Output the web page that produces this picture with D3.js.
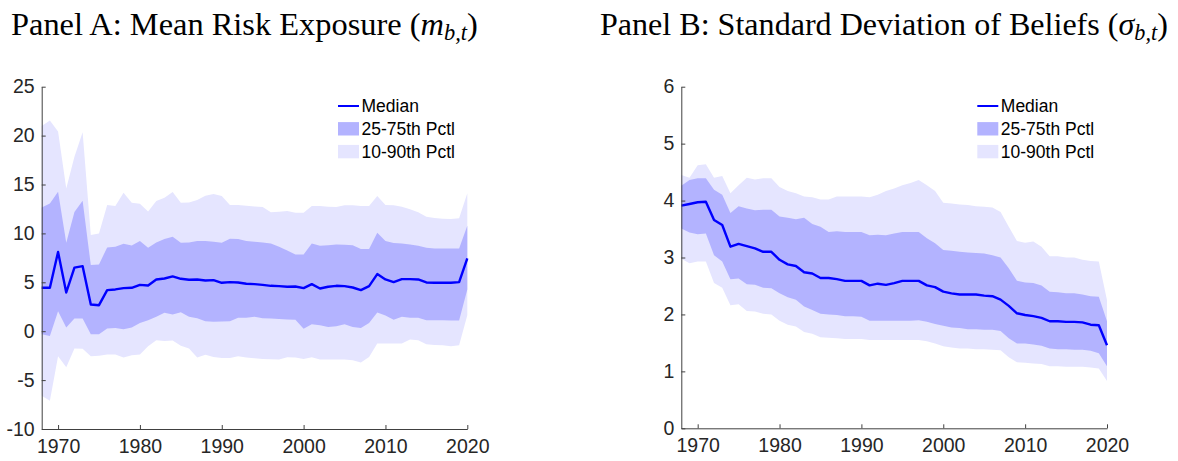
<!DOCTYPE html>
<html>
<head>
<meta charset="utf-8">
<script src="https://cdn.jsdelivr.net/npm/d3@7"></script>
<style>
  body { margin: 0; background: #fff; }
  svg { display: block; }
</style>
</head>
<body>
<svg id="chart" width="1178" height="461"></svg>
<script>
'use strict'

const years = d3.range(1968, 2021)

// Panel A: mean risk exposure
const riskMedian = [4.44, 4.44, 8.1, 3.96, 6.5, 6.65, 2.73, 2.66, 4.2, 4.27,
  4.4, 4.44, 4.74, 4.68, 5.29, 5.39, 5.6, 5.36, 5.26, 5.29,
  5.19, 5.22, 4.95, 5.02, 4.98, 4.85, 4.81, 4.74, 4.64, 4.61,
  4.54, 4.57, 4.4, 4.81, 4.37, 4.54, 4.64, 4.61, 4.47, 4.2,
  4.61, 5.84, 5.29, 5.02, 5.32, 5.32, 5.29, 4.98, 4.95, 4.95,
  4.95, 5.02, 7.44]
const riskP25 = [-0.3, -0.48, 2.05, 0.38, 1.3, 1.3, -0.3, -0.3, 0.27, 0.34,
  0.2, 0.38, 0.85, 1.13, 1.47, 1.88, 1.71, 1.95, 1.47, 1.33,
  1.02, 0.96, 0.99, 1.02, 1.37, 1.37, 1.47, 1.33, 1.3, 1.26,
  1.19, 1.16, 0.24, 0.72, 0.61, 0.44, 0.51, 0.72, 0.44, 0.34,
  0.85, 1.91, 1.6, 1.16, 1.47, 1.37, 1.37, 1.13, 1.13, 1.13,
  1.09, 1.09, 4.27]
const riskP75 = [12.66, 13.07, 14.27, 9.04, 12.2, 13.34, 6.76, 6.83, 8.57, 8.63,
  8.94, 8.77, 9.22, 8.53, 9.08, 9.42, 9.66, 9.04, 9.08, 9.22,
  9.22, 9.15, 9.04, 9.45, 9.42, 9.22, 9.15, 9.08, 8.98, 8.63,
  8.26, 7.85, 7.85, 8.98, 8.74, 8.8, 8.87, 8.84, 8.8, 8.4,
  8.4, 10.07, 9.22, 9.01, 8.98, 8.87, 8.74, 8.53, 8.46, 8.46,
  8.46, 8.46, 10.78]
const riskP10 = [-6.6, -7.1, -2.56, -3.69, -1.77, -1.8, -2.56, -2.5, -2.39, -2.39,
  -2.7, -2.46, -2.39, -1.54, -0.92, -0.99, -0.96, -1.5, -1.77, -2.7,
  -2.42, -2.63, -2.73, -2.73, -2.56, -2.7, -2.76, -2.83, -2.87, -2.9,
  -2.66, -2.7, -2.83, -2.66, -2.9, -2.9, -2.9, -2.9, -2.97, -3.2,
  -2.63, -1.26, -1.26, -1.26, -1.26, -0.85, -0.92, -1.33, -1.4, -1.43,
  -1.54, -1.43, 1.64]
const riskP90 = [20.99, 21.54, 20.41, 14.6, 17.85, 20.34, 9.83, 10.0, 12.9, 12.8,
  14.16, 13.14, 13.04, 12.25, 13.31, 13.65, 14.23, 13.14, 13.17, 13.41,
  13.86, 14.03, 13.82, 12.9, 12.9, 12.83, 12.76, 12.7, 12.15, 12.22,
  12.29, 12.12, 12.12, 12.8, 12.8, 12.73, 12.7, 12.87, 12.87, 12.8,
  12.8, 13.82, 12.9, 12.87, 12.73, 12.46, 12.15, 11.71, 11.57, 11.5,
  11.47, 11.54, 14.1]

// Panel B: standard deviation of beliefs
const sdMedian = [3.91, 3.94, 3.97, 3.98, 3.66, 3.57, 3.19, 3.24, 3.2, 3.16,
  3.1, 3.1, 2.96, 2.88, 2.85, 2.74, 2.72, 2.64, 2.64, 2.62,
  2.59, 2.59, 2.59, 2.51, 2.54, 2.52, 2.55, 2.59, 2.59, 2.59,
  2.51, 2.48, 2.4, 2.37, 2.35, 2.35, 2.35, 2.33, 2.32, 2.26,
  2.15, 2.02, 1.99, 1.97, 1.94, 1.88, 1.88, 1.87, 1.87, 1.86,
  1.82, 1.81, 1.46]
const sdP25 = [3.51, 3.44, 3.41, 3.42, 3.04, 2.93, 2.62, 2.63, 2.53, 2.52,
  2.47, 2.46, 2.37, 2.3, 2.26, 2.14, 2.08, 2.01, 2.0, 1.99,
  1.97, 1.97, 1.96, 1.89, 1.89, 1.89, 1.89, 1.89, 1.89, 1.9,
  1.87, 1.83, 1.8, 1.77, 1.76, 1.74, 1.74, 1.73, 1.73, 1.71,
  1.58, 1.49, 1.49, 1.47, 1.45, 1.4, 1.39, 1.39, 1.38, 1.38,
  1.36, 1.32, 1.09]
const sdP75 = [4.26, 4.36, 4.39, 4.39, 4.19, 4.1, 3.78, 3.9, 3.86, 3.83,
  3.84, 3.84, 3.72, 3.7, 3.67, 3.7, 3.59, 3.54, 3.45, 3.46,
  3.45, 3.45, 3.45, 3.39, 3.4, 3.39, 3.42, 3.45, 3.45, 3.45,
  3.34, 3.25, 3.13, 3.12, 3.1, 3.09, 3.08, 3.07, 3.04, 3.0,
  2.81, 2.59, 2.56, 2.55, 2.51, 2.4, 2.39, 2.37, 2.37, 2.35,
  2.32, 2.31, 1.88]
const sdP10 = [2.98, 2.9, 2.93, 2.93, 2.55, 2.47, 2.16, 2.18, 2.06, 2.05,
  2.01, 2.0, 1.89, 1.82, 1.79, 1.69, 1.66, 1.6, 1.59, 1.58,
  1.57, 1.57, 1.57, 1.55, 1.55, 1.55, 1.55, 1.55, 1.55, 1.55,
  1.53, 1.49, 1.44, 1.42, 1.4, 1.4, 1.39, 1.39, 1.38, 1.37,
  1.25, 1.16, 1.15, 1.14, 1.13, 1.09, 1.09, 1.08, 1.08, 1.08,
  1.07, 1.05, 0.83]
const sdP90 = [4.45, 4.4, 4.62, 4.64, 4.4, 4.43, 4.13, 4.27, 4.4, 4.37,
  4.39, 4.39, 4.24, 4.17, 4.13, 4.07, 4.06, 4.02, 4.02, 4.07,
  4.07, 4.07, 4.07, 4.06, 4.1, 4.17, 4.21, 4.27, 4.31, 4.36,
  4.27, 4.17, 3.96, 3.95, 3.93, 3.92, 3.9, 3.89, 3.88, 3.8,
  3.54, 3.29, 3.26, 3.28, 3.19, 3.02, 3.02, 3.0, 3.0, 2.96,
  2.94, 2.93, 2.25]

const xTicks = [1970, 1980, 1990, 2000, 2010, 2020]
const riskTicks = [-10, -5, 0, 5, 10, 15, 20, 25]
const sdTicks = [0, 1, 2, 3, 4, 5, 6]
const legendLabels = ['Median', '25-75th Pctl', '10-90th Pctl']

const COLOR_LINE = '#0000ff'
const COLOR_IQR = '#b3b3ff'
const COLOR_OUTER = '#e5e5ff'
const AXIS_COLOR = '#404040'

const svg = d3.select('#chart')

function drawTitle(x, y, targetWidth, label, symbol) {
    let t = svg.append('text')
        .attr('x', x)
        .attr('y', y)
        .style('font-family', '"Liberation Serif", "DejaVu Serif", serif')
        .style('font-size', '26px')
        .attr('fill', '#000')

    t.append('tspan').text(label + ' (')
    t.append('tspan').style('font-style', 'italic').text(symbol)
    t.append('tspan').attr('dy', 5).style('font-size', '18px').style('font-style', 'italic').text('b,t')
    t.append('tspan').attr('dy', -5).text(')')

    // scale font so the title spans the same width as the reference
    let w = t.node().getComputedTextLength()
    let k = targetWidth / w
    t.style('font-size', (26 * k) + 'px')
    t.selectAll('tspan').filter((d, i) => i == 2).style('font-size', (18 * k) + 'px')
}

function drawPanel(opts) {

    let x = d3.scaleLinear().domain([1968, 2020]).range([opts.left, opts.right])
    let y = d3.scaleLinear().domain(opts.yDomain).range([opts.bottom, opts.top])

    let g = svg.append('g')

    let outer = d3.area()
        .x((d, i) => x(years[i]))
        .y0((d, i) => y(opts.p10[i]))
        .y1((d, i) => y(opts.p90[i]))

    let inner = d3.area()
        .x((d, i) => x(years[i]))
        .y0((d, i) => y(opts.p25[i]))
        .y1((d, i) => y(opts.p75[i]))

    let line = d3.line()
        .x((d, i) => x(years[i]))
        .y(d => y(d))

    g.append('path').datum(years).attr('d', outer).attr('fill', COLOR_OUTER)
    g.append('path').datum(years).attr('d', inner).attr('fill', COLOR_IQR)
    g.append('path').datum(opts.median).attr('d', line)
        .attr('fill', 'none')
        .attr('stroke', COLOR_LINE)
        .attr('stroke-width', 2.4)
        .attr('stroke-linejoin', 'round')

    // axes, MATLAB style: ticks inside, no box
    let xAxis = g.append('g')
        .attr('transform', 'translate(0,' + opts.bottom + ')')
        .call(d3.axisBottom(x).tickValues(xTicks).tickFormat(d3.format('d')).tickSizeInner(-4).tickSizeOuter(0).tickPadding(10))

    let yAxis = g.append('g')
        .attr('transform', 'translate(' + opts.left + ',0)')
        .call(d3.axisLeft(y).tickValues(opts.yTicks).tickSizeInner(-4).tickSizeOuter(0).tickPadding(7))

    for (let ax of [xAxis, yAxis]) {
        ax.select('.domain').attr('stroke', AXIS_COLOR)
        ax.selectAll('.tick line').attr('stroke', AXIS_COLOR)
        ax.selectAll('.tick text')
            .attr('fill', '#262626')
            .style('font-family', '"Liberation Sans", Arial, sans-serif')
            .style('font-size', '19.5px')
    }
    yAxis.selectAll('.tick text').text(d => d < 0 ? '-' + Math.abs(d) : d)

    // legend
    let lg = g.append('g').attr('transform', 'translate(' + opts.legendX + ',' + opts.legendY + ')')
    let rowGap = 22.8

    lg.append('line')
        .attr('x1', 0).attr('x2', 21)
        .attr('y1', 0).attr('y2', 0)
        .attr('stroke', COLOR_LINE).attr('stroke-width', 2)
    lg.append('rect').attr('x', 0).attr('y', rowGap - 6.7).attr('width', 21).attr('height', 13.4).attr('fill', COLOR_IQR)
    lg.append('rect').attr('x', 0).attr('y', 2 * rowGap - 6.7).attr('width', 21).attr('height', 13.4).attr('fill', COLOR_OUTER)

    lg.selectAll('text.lbl')
        .data(legendLabels)
        .enter()
        .append('text')
        .attr('class', 'lbl')
        .attr('x', 23.5)
        .attr('y', (d, i) => i * rowGap)
        .attr('dy', '0.35em')
        .style('font-family', '"Liberation Sans", Arial, sans-serif')
        .style('font-size', '17.5px')
        .attr('fill', '#000')
        .text(d => d)
}

drawTitle(11, 35, 467, 'Panel A: Mean Risk Exposure', 'm')
drawTitle(600, 35, 568, 'Panel B: Standard Deviation of Beliefs', 'σ')

drawPanel({
    left: 41.7, right: 467.3, top: 86.7, bottom: 429,
    yDomain: [-10, 25], yTicks: riskTicks,
    median: riskMedian, p25: riskP25, p75: riskP75, p10: riskP10, p90: riskP90,
    legendX: 338, legendY: 106
})

drawPanel({
    left: 681.3, right: 1107, top: 86.7, bottom: 428.3,
    yDomain: [0, 6], yTicks: sdTicks,
    median: sdMedian, p25: sdP25, p75: sdP75, p10: sdP10, p90: sdP90,
    legendX: 977.3, legendY: 106
})
</script>
</body>
</html>
